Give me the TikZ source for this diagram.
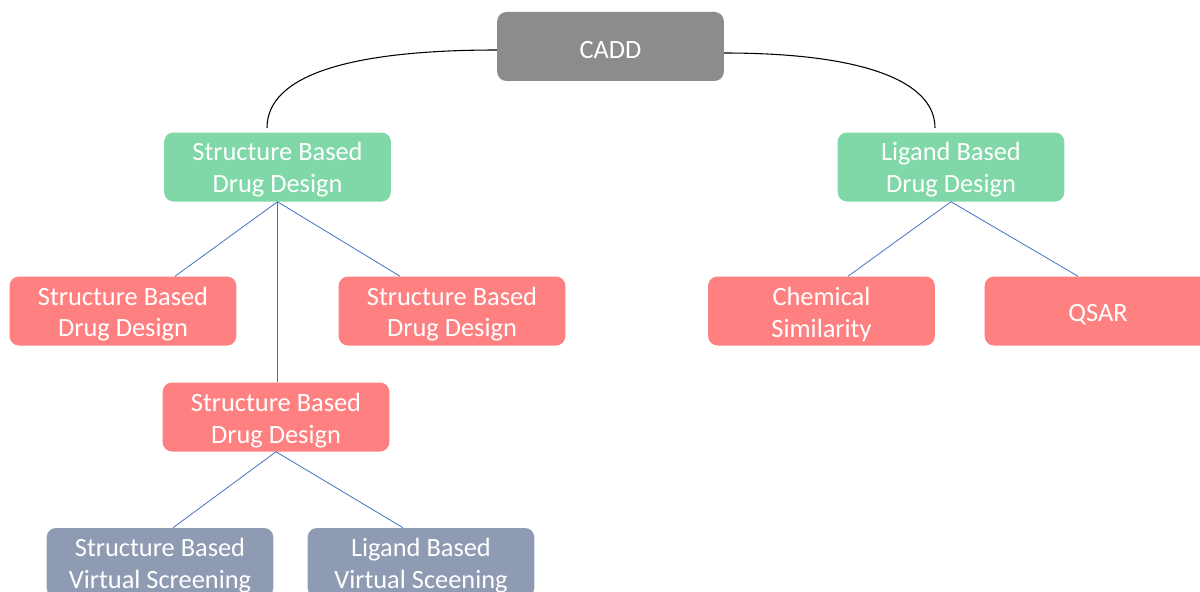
\documentclass[tikz,border=0pt]{standalone}
\usepackage{fontspec}
\setmainfont{Carlito}
\definecolor{cgray}{RGB}{140,140,140}
\definecolor{cgreen}{RGB}{128,216,168}
\definecolor{cred}{RGB}{255,128,128}
\definecolor{cslate}{RGB}{143,155,178}
\definecolor{cblue}{RGB}{68,114,196}
\newcommand\tpstrut{\rule{0pt}{18.4pt}}
\begin{document}
\begin{tikzpicture}[x=0.75pt,y=-0.75pt,
  box/.style={rounded corners=7pt, minimum width=170pt, minimum height=51.75pt,
    inner sep=0pt, align=center, text=white, font=\fontsize{19.8}{24}\selectfont},
  grayb/.style={box, fill=cgray},
  greenb/.style={box, fill=cgreen},
  redb/.style={box, fill=cred},
  slateb/.style={box, fill=cslate},
  link/.style={draw=cblue, line width=0.6pt},
  arc/.style={draw=black, line width=0.8pt}]
\useasboundingbox[fill=white] (0,0) rectangle (1200,592);
\node[grayb] (cadd) at (610.5,46.5) {\tpstrut CADD};
\node[greenb] (sbdd) at (277.5,167) {\tpstrut Structure Based\\Drug Design};
\node[greenb] (lbdd) at (951,167) {\tpstrut Ligand Based\\Drug Design};
\node[redb] (r1) at (123,311) {\tpstrut Structure Based\\Drug Design};
\node[redb] (r2) at (452,311) {\tpstrut Structure Based\\Drug Design};
\node[redb] (r3) at (276,417) {\tpstrut Structure Based\\Drug Design};
\node[redb] (chem) at (821.5,311) {\tpstrut Chemical\\Similarity};
\node[redb] (qsar) at (1098,311) {\tpstrut QSAR};
\node[slateb] (sbvs) at (160,562.5) {\tpstrut Structure Based\\Virtual Screening};
\node[slateb] (lbvs) at (421,562.5) {\tpstrut Ligand Based\\Virtual Sceening};
% black arcs
\coordinate (ls) at (267,128);
\coordinate (rs) at (935,128);
\draw[arc] (cadd.west |- 0,50) .. controls (350,50) and (267,75) .. (ls);
\draw[arc] (cadd.east |- 0,53) .. controls (860,53) and (935,80) .. (rs);
% blue links
\draw[link] (sbdd.south) -- (r1.north -| 175,0);
\draw[link] (sbdd.south) -- (r2.north -| 400,0);
\draw[link] (sbdd.south) -- (r3.north -| 277.5,0);
\draw[link] (r3.south) -- (sbvs.north -| 173,0);
\draw[link] (r3.south) -- (lbvs.north -| 403,0);
\draw[link] (lbdd.south) -- (chem.north -| 848,0);
\draw[link] (lbdd.south) -- (qsar.north -| 1078,0);
\end{tikzpicture}
\end{document}
